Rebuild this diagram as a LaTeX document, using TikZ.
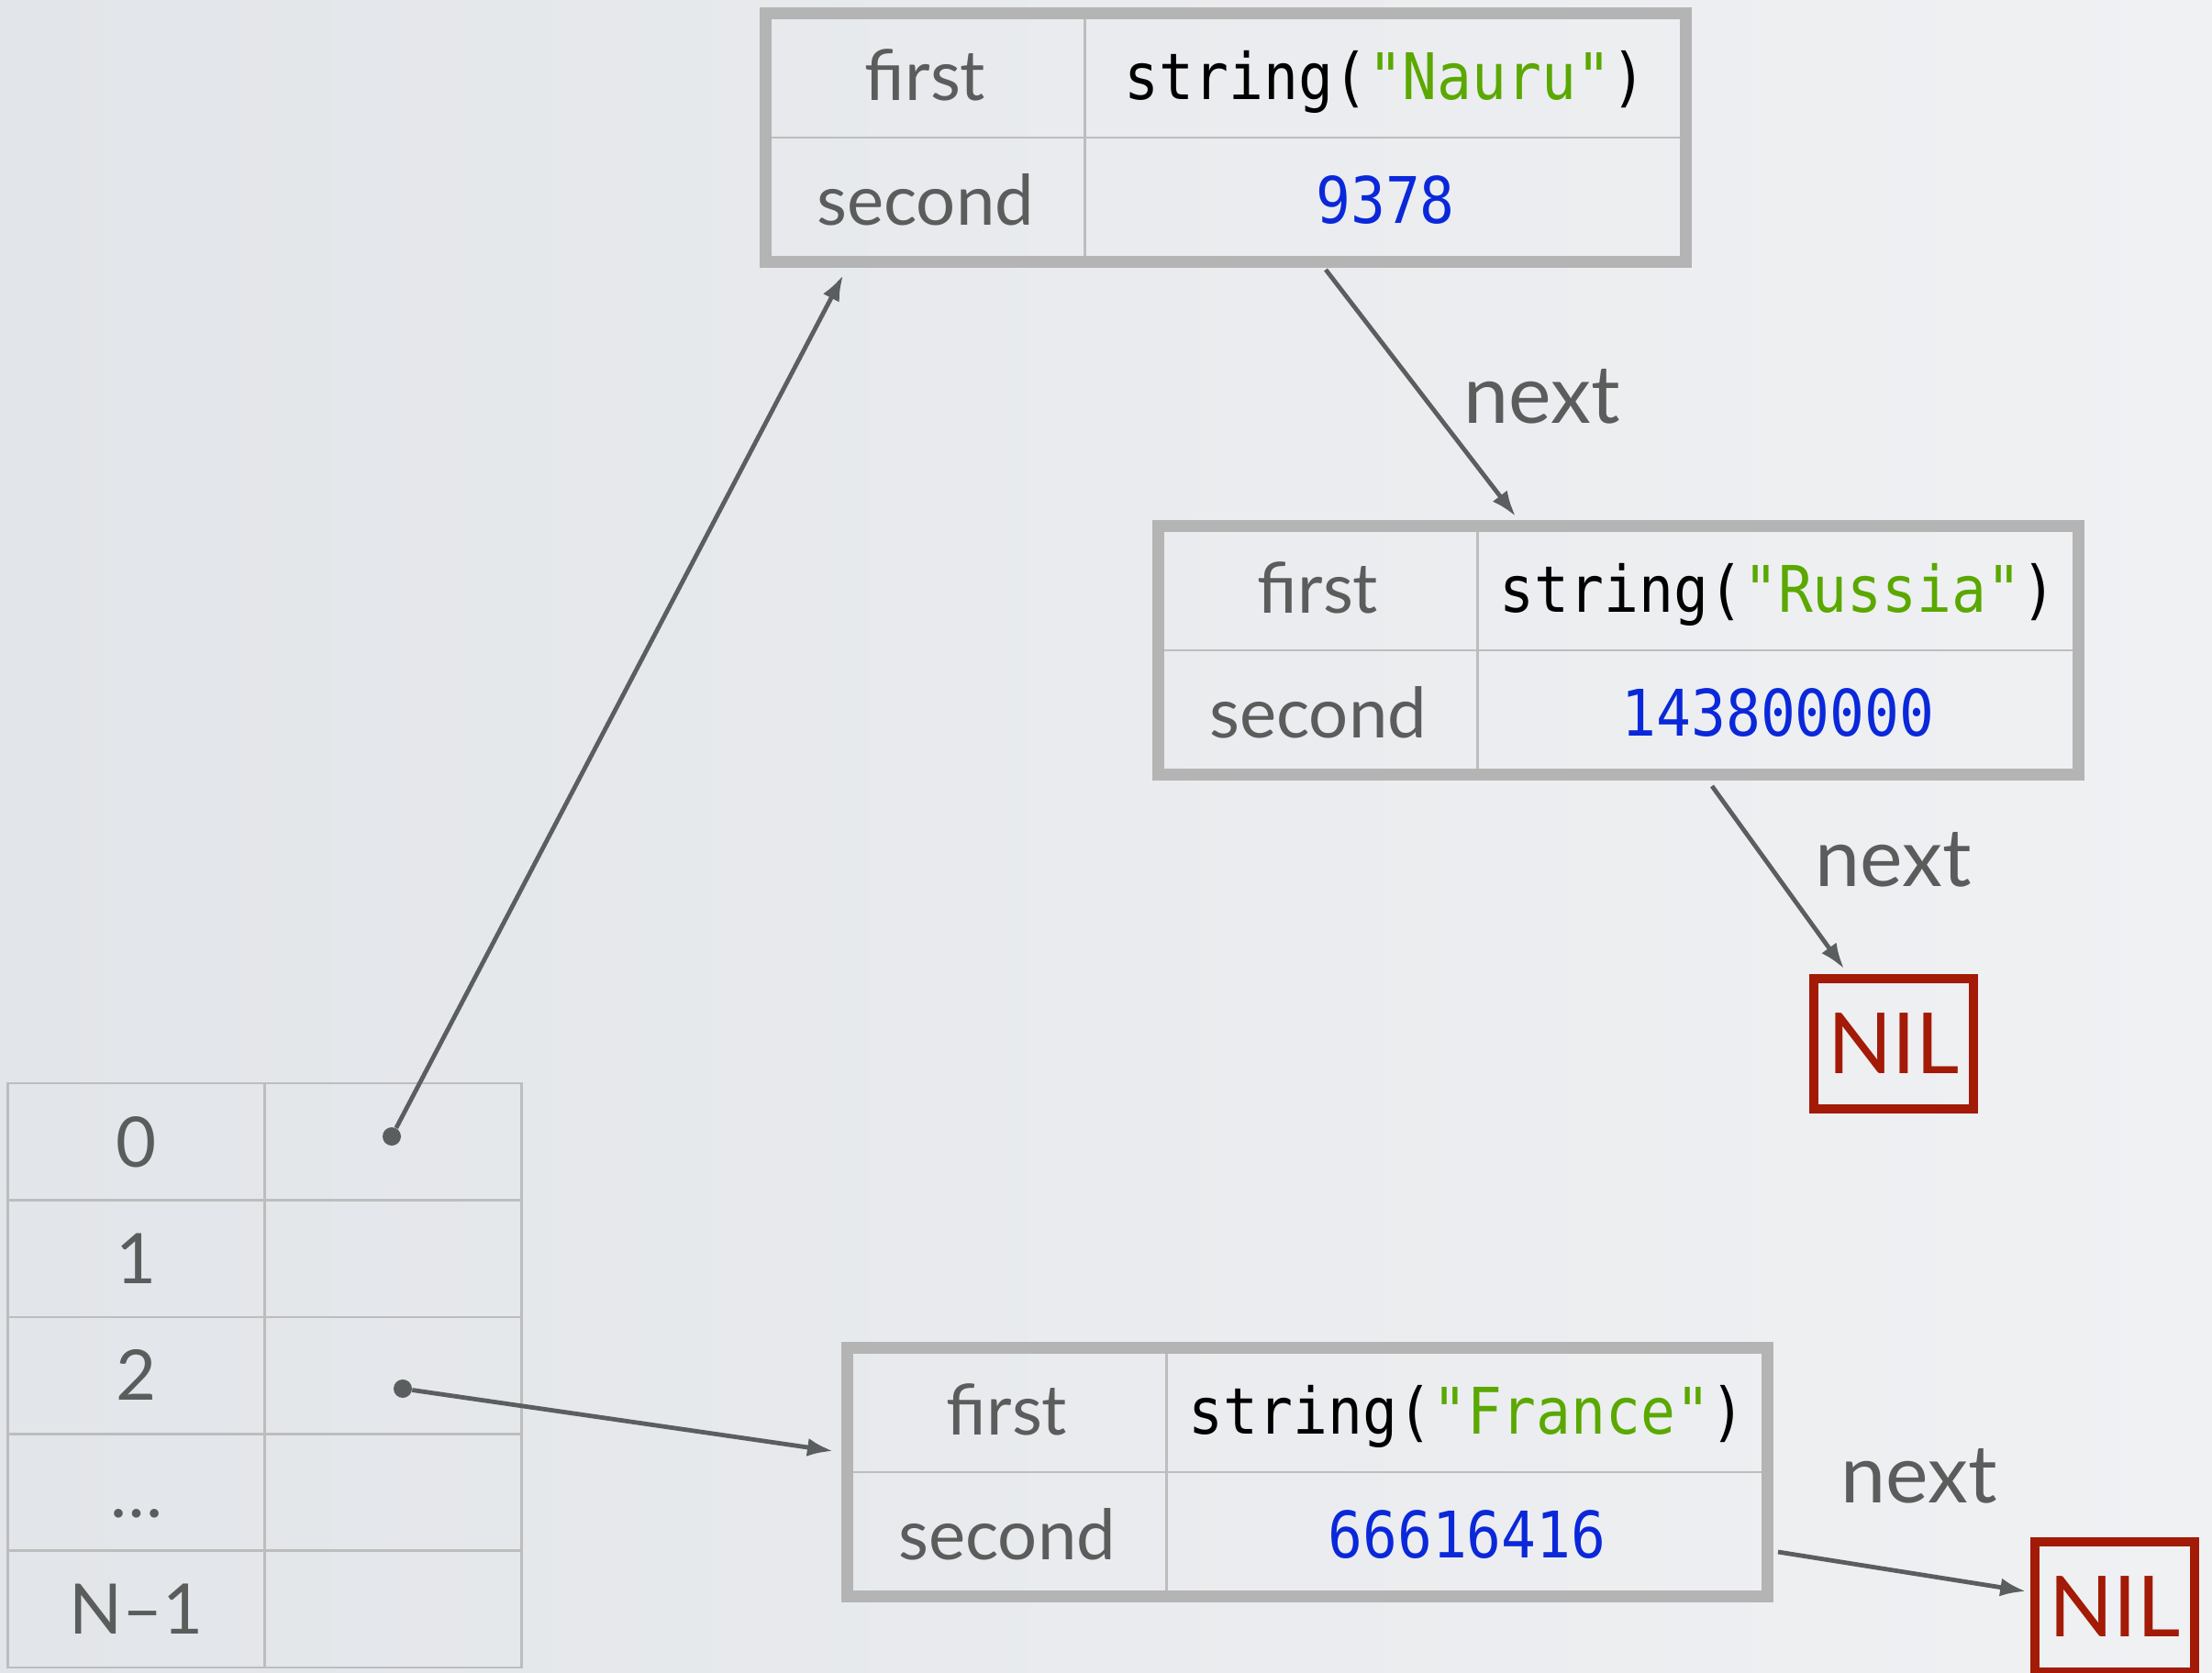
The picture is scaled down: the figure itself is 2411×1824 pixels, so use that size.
\documentclass[tikz,border=0pt]{standalone}
\usepackage{fontspec}
\setmainfont{Lato}
\newfontfamily\monofont[FakeStretch=0.9]{DejaVu Sans Mono}
\usetikzlibrary{positioning}
\usetikzlibrary{fit}
\usetikzlibrary{arrows.meta}

\definecolor{bgleft}{HTML}{E2E5E9}
\definecolor{bgright}{HTML}{F0F1F3}
\definecolor{txtgray}{HTML}{5B5D5D}
\definecolor{linegray}{HTML}{BDBDBD}
\definecolor{boxgray}{HTML}{B4B4B4}
\definecolor{strgreen}{HTML}{5AA800}
\definecolor{numblue}{HTML}{0A28DA}
\definecolor{nilred}{HTML}{A31A06}
\definecolor{arrowgray}{HTML}{5A5E5E}

\tikzset{
  labcell/.style={draw=linegray,line width=1.2pt,minimum width=174pt,minimum height=67.75pt,
    inner sep=0pt,outer sep=0pt,text=txtgray,font=\fontsize{38}{40}\selectfont},
  valcell/.style={labcell,minimum width=327.5pt,text=black,font=\monofont\fontsize{35}{38}\selectfont,
    text depth=0pt},
  recbox/.style={draw=boxgray,line width=6.5pt,inner sep=0pt,outer sep=0pt},
  idxcell/.style={draw=linegray,line width=1.3pt,minimum width=140pt,minimum height=63.7pt,
    inner sep=0pt,outer sep=0pt,text=txtgray,font=\fontsize{38}{40}\selectfont,
    text height=27.4pt,text depth=0pt},
  nilbox/.style={draw=nilred,line width=4.75pt,minimum width=87pt,minimum height=71pt,
    inner sep=0pt,text=nilred,font=\fontsize{46}{48}\selectfont},
  dot/.style={circle,fill=arrowgray,minimum size=10pt,inner sep=0pt},
  ptr/.style={draw=arrowgray,line width=2.4pt,-{Latex[length=14pt,width=10pt]}},
  lbl/.style={text=txtgray,font=\fontsize{44}{46}\selectfont,inner sep=0pt,anchor=base}
}

\begin{document}
\begin{tikzpicture}[x=0.5pt,y=-0.5pt]
\useasboundingbox (0,0) rectangle (2411,1824);
\shade[left color=bgleft,right color=bgright] (0,0) rectangle (2411,1824);

% Nauru
\node[labcell,anchor=north west] (f1) at (834.5,14.5) {first};
\node[valcell,right=0pt of f1] (v1) {string(\textcolor{strgreen}{"Nauru"})};
\node[labcell,below=0pt of f1] (s1) {second};
\node[valcell,right=0pt of s1] (n1) {\textcolor{numblue}{9378}};
\node[recbox,fit=(f1)(n1)] (r1) {};

% Russia
\node[labcell,anchor=north west] (f2) at (1262.5,573.5) {first};
\node[valcell,right=0pt of f2] (v2) {string(\textcolor{strgreen}{"Russia"})};
\node[labcell,below=0pt of f2] (s2) {second};
\node[valcell,right=0pt of s2] (n2) {\textcolor{numblue}{143800000}};
\node[recbox,fit=(f2)(n2)] (r2) {};

% France
\node[labcell,anchor=north west] (f3) at (923.5,1469.5) {first};
\node[valcell,right=0pt of f3] (v3) {string(\textcolor{strgreen}{"France"})};
\node[labcell,below=0pt of f3] (s3) {second};
\node[valcell,right=0pt of s3] (n3) {\textcolor{numblue}{66616416}};
\node[recbox,fit=(f3)(n3)] (r3) {};

\node[nilbox] (nil1) at (2064,1138) {NIL};
\node[nilbox] (nil2) at (2305,1752) {NIL};

% bucket array
\foreach \i/\t in {0/0,1/1,2/2,3/\ldots,4/N--1}{
  \node[idxcell,anchor=north west] (i\i) at (8.5,{1181+127.4*\i}) {\t};
  \node[idxcell,right=0pt of i\i] (p\i) {};
}
\node[dot] (d0) at (427,1239) {};
\node[dot] (d2) at (439,1514) {};

\node[lbl] (x1) at (1681,462) {next};
\node[lbl] (x2) at (2064,966) {next};
\node[lbl] (x3) at (2092,1638) {next};

\draw[ptr] (d0) -- ([xshift=42.25pt,yshift=-7.25pt]r1.south west);
\draw[ptr] ([xshift=54.5pt,yshift=-4.25pt]r1.south) -- ([xshift=-56pt,yshift=5.25pt]r2.north);
\draw[ptr] ([xshift=51pt,yshift=-6.25pt]r2.south) -- ([xshift=-27pt,yshift=3pt]nil1.north);
\draw[ptr] (d2) -- ([xshift=-7.75pt,yshift=11.5pt]r3.west);
\draw[ptr] ([xshift=5.75pt,yshift=-43.5pt]r3.east) -- ([xshift=-2.5pt,yshift=8.5pt]nil2.west);
\end{tikzpicture}
\end{document}
